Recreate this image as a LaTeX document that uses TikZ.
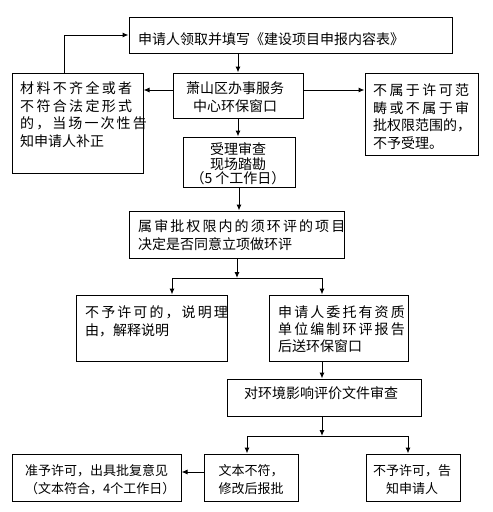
\documentclass[tikz,border=0pt]{standalone}
\usepackage{fontspec}
\setmainfont{Noto Sans CJK SC}
\usetikzlibrary{fit,arrows.meta}
\newcommand\spr[2]{\makebox[#1][s]{#2}}
\begin{document}
\begin{tikzpicture}[x=1pt,y=-1pt,
  box/.style={draw, line width=1pt, inner sep=0pt},
  arr/.style={line width=1pt, -{Latex[length=6pt,width=5pt]}},
  tx/.style={inner sep=0pt, anchor=north west, align=left, font=\fontsize{14}{17.5}\selectfont, yshift=6.3pt},
  tc/.style={inner sep=0pt, anchor=north, align=center, font=\fontsize{14}{17.5}\selectfont, yshift=6.3pt},
  small/.style={font=\fontsize{13}{18}\selectfont, yshift=-0.45pt}]
\useasboundingbox[fill=white] (0,0) rectangle (493,512);
% boxes
\node[box, fit={(129,17)(452,53)}] (top) {};
\node[box, fit={(12,73)(143,173)}] (left) {};
\node[box, fit={(173,73)(303,118)}] (mid) {};
\node[box, fit={(365,73)(478,155)}] (right) {};
\node[box, fit={(183,137)(295,187)}] (acc) {};
\node[box, fit={(129,211)(344,258)}] (dec) {};
\node[box, fit={(76,295)(227,361)}] (deny1) {};
\node[box, fit={(269,295)(408,361)}] (ent) {};
\node[box, fit={(227,379)(421,416)}] (rev) {};
\node[box, fit={(12,454)(181,501)}] (app) {};
\node[box, fit={(204,454)(298,501)}] (revise) {};
\node[box, fit={(366,454)(460,501)}] (deny2) {};
% texts
\node[tx] (ttop) at (138,39) {申请人领取并填写《建设项目申报内容表》};
\node[tx] (tleft) at (20,88) {\spr{112pt}{材 料 不 齐 全 或 者}\\ \spr{112pt}{不 符 合 法 定 形 式}\\ \spr{112pt}{的 ， 当 场 一 次 性 告}\\ 知申请人补正};
\node[tx] (tright) at (373,90) {\spr{96pt}{不 属 于 许 可 范}\\ \spr{96pt}{畴 或 不 属 于 审}\\ 批权限范围的，\\ 不予受理。};
\node[tc] (tmid) at (235,88) {萧山区办事服务\\ 中心环保窗口};
\node[tc, font=\fontsize{14}{14.5}\selectfont] (tacc) at (238,149) {受理审查\\ 现场踏勘\\ （5 个工作日）};
\node[tx, font=\fontsize{14}{18}\selectfont] (tdec) at (138,226) {\spr{195pt}{属 审 批 权 限 内 的 须 环 评 的 项 目}\\ 决定是否同意立项做环评};
\node[tx] (tdeny1) at (85,312) {\spr{133pt}{不 予 许 可 的 ， 说 明 理}\\ 由，解释说明};
\node[tx, font=\fontsize{14}{17}\selectfont] (tent) at (278,312) {\spr{120pt}{申 请 人 委 托 有 资 质}\\ \spr{120pt}{单 位 编 制 环 评 报 告}\\ 后送环保窗口};
\node[tc] (trev) at (321,393) {对环境影响评价文件审查};
\node[tx, small] (tapp) at (25,470) {准予许可，出具批复意见\\ （文本符合，4个工作日）};
\node[tc, small] (trevise) at (251,470) {文本不符，\\ 修改后报批};
\node[tc, small] (tdeny2) at (412,470) {不予许可，告\\ 知申请人};
% connectors
\draw[arr] (top.south -| mid.north) -- (mid.north);
\draw[arr] ([xshift=-13.5pt]left.north) |- (top.west);
\draw[arr] ([yshift=5.5pt]mid.west) -- ([yshift=5.5pt]mid.west -| left.east);
\draw[arr] ([yshift=5.5pt]mid.east) -- ([yshift=5.5pt]mid.east -| right.west);
\draw[arr] (mid.south) -- (mid.south |- acc.north);
\draw[arr] (acc.south) -- (acc.south |- dec.north);
\coordinate (j1) at (237,278);
\draw[arr] (dec.south -| j1) -- (j1);
\draw[arr] (j1) -| ([xshift=20.5pt]deny1.north);
\draw[arr] (j1) -| ([xshift=-16.5pt]ent.north);
\coordinate (j2) at (322,436);
\draw[arr] (ent.south -| j2) -- (rev.north -| j2);
\draw[arr] (rev.south -| j2) -- (j2);
\draw[arr] (j2) -| ([xshift=-4pt]revise.north);
\draw[arr] (j2) -| ([xshift=-5pt]deny2.north);
\draw[arr] ([yshift=5.5pt]revise.west) -- ([yshift=5.5pt]revise.west -| app.east);
\end{tikzpicture}
\end{document}
